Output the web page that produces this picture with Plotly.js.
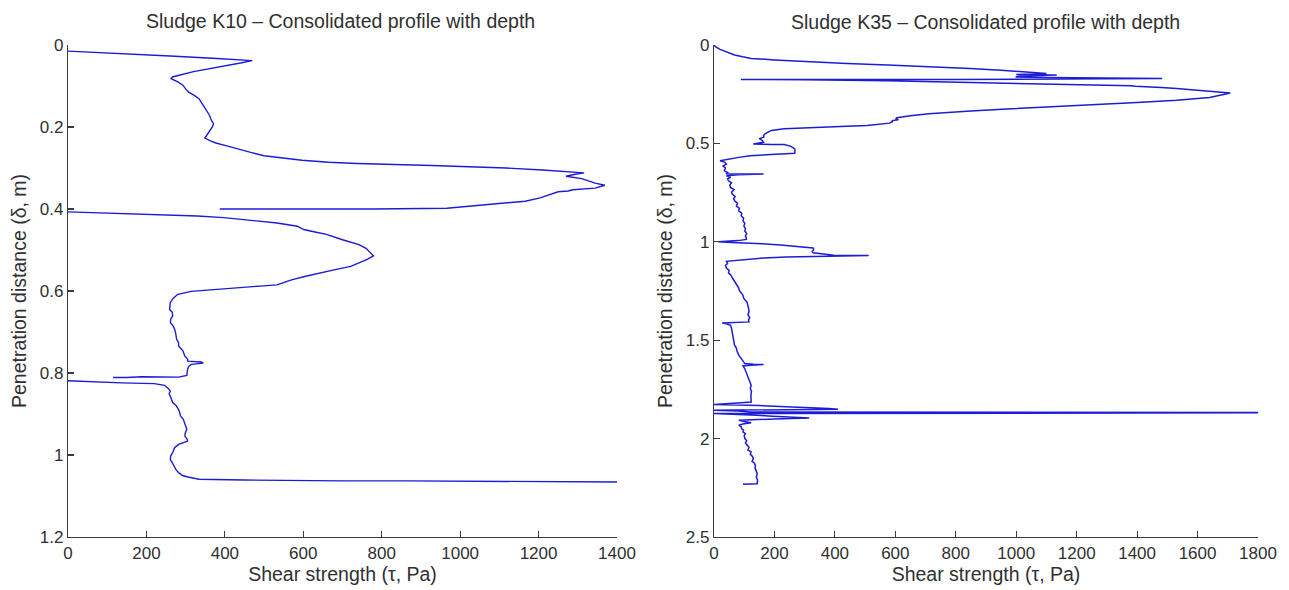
<!DOCTYPE html>
<html>
<head>
<meta charset="utf-8">
<script src="https://cdn.plot.ly/plotly-3.0.1.min.js"></script>
<style>html,body{margin:0;padding:0;background:#fff;}#chart{width:1289px;height:590px;}</style>
</head>
<body>
<div id="chart"></div>
<script>
// Sludge K10: depth (m) and shear strength (Pa); null marks a break in the trace
const k10Depth = [0.015,0.020,0.027,0.033,0.038,0.044,0.053,0.065,0.078,0.082,0.090,0.098,0.107,0.115,0.123,0.131,0.143,0.155,0.170,0.184,0.192,0.200,0.209,0.218,0.227,0.233,0.239,0.246,0.254,0.262,0.270,0.276,0.281,0.286,0.289,0.294,0.300,0.305,0.308,0.312,0.316,0.320,0.326,0.332,0.337,0.342,0.346,0.349,0.353,0.356,0.358,0.361,0.367,0.373,0.381,0.385,0.389,0.393,0.398,0.400,0.400,0.400,0.400,
null,
0.407,0.410,0.413,0.417,0.421,0.427,0.434,0.442,0.450,0.456,0.462,0.475,0.487,0.496,0.503,0.514,0.523,0.532,0.540,0.546,0.552,0.564,0.573,0.581,0.585,0.588,0.591,0.596,0.601,0.608,0.618,0.628,0.645,0.652,0.661,0.668,0.677,0.685,0.693,0.705,0.718,0.726,0.734,0.746,0.753,0.759,0.766,0.771,0.773,0.776,0.779,0.785,0.791,0.800,0.806,0.810,0.810,0.809,0.811,0.811,
null,
0.819,0.822,0.824,0.826,0.828,0.830,0.837,0.844,0.850,0.856,0.864,0.872,0.880,0.889,0.897,0.905,0.913,0.921,0.929,0.937,0.946,0.954,0.960,0.966,0.970,0.974,0.982,0.988,0.994,1.002,1.011,1.019,1.027,1.035,1.043,1.050,1.053,1.057,1.059,1.061,1.062,1.063,1.063,1.064,1.065,1.066];
const k10Shear = [0,120,260,380,470,440,387,320,266,263,280,293,300,308,322,334,342,350,360,366,371,368,361,355,349,362,377,405,434,466,500,548,597,665,737,928,1117,1210,1260,1316,1290,1270,1310,1330,1344,1369,1355,1344,1288,1275,1250,1240,1222,1204,1166,1120,1069,1020,966,780,600,450,387,
null,
0,120,240,330,397,470,533,585,601,630,659,700,742,760,768,779,763,742,721,690,659,606,570,543,533,490,449,366,314,280,268,261,259,266,267,262,261,268,272,275,277,282,282,293,296,298,305,305,340,345,314,307,305,303,303,282,240,188,150,115,
null,
0,70,136,220,240,246,255,261,258,261,264,267,276,282,285,287,294,298,300,303,299,298,303,305,292,282,272,270,267,262,261,266,270,275,282,292,303,320,334,450,554,700,867,1000,1200,1400];

// Sludge K35: depth (m) and shear strength (Pa)
const k35Depth = [0.000,0.009,0.022,0.035,0.051,0.060,0.068,0.076,0.085,0.094,0.102,0.110,0.119,0.128,0.136,0.140,0.145,0.150,0.153,0.157,0.162,0.165,0.167,0.169,0.170,0.172,0.174,0.175,0.175,0.175,0.177,0.182,0.190,0.196,0.200,0.204,0.207,0.210,0.212,0.216,0.221,0.226,0.230,0.236,0.244,0.250,0.256,0.262,0.267,0.274,0.281,0.292,0.302,0.313,0.324,0.336,0.349,0.360,0.370,0.375,0.380,0.384,0.390,0.397,0.403,0.409,0.413,0.417,0.421,0.426,0.434,0.443,0.450,0.460,0.468,0.476,0.485,0.494,0.500,0.503,0.505,0.506,0.515,0.528,0.540,0.550,0.554,0.557,0.563,0.571,0.578,0.584,0.588,0.595,0.605,0.615,0.625,0.639,0.648,0.654,0.656,0.659,0.662,0.664,0.672,0.680,0.690,0.700,0.712,0.724,0.735,0.748,0.758,0.770,0.781,0.792,0.805,0.818,0.830,0.843,0.855,0.868,0.880,0.894,0.906,0.920,0.933,0.945,0.958,0.970,0.980,0.988,0.994,0.997,1.000,1.003,1.005,1.010,1.016,1.022,1.027,1.031,1.040,1.048,1.056,1.063,1.068,1.069,1.071,1.073,1.077,1.082,1.090,1.099,1.110,1.120,1.133,1.145,1.158,1.170,1.184,1.196,1.210,1.222,1.235,1.248,1.260,1.272,1.285,1.295,1.305,1.320,1.335,1.356,1.370,1.385,1.398,1.407,1.410,1.413,1.416,1.424,1.440,1.455,1.475,1.490,1.505,1.525,1.540,1.555,1.576,1.590,1.605,1.619,1.622,1.624,1.627,1.631,1.645,1.660,1.678,1.695,1.712,1.729,1.745,1.760,1.780,1.800,1.814,1.818,1.822,1.827,1.832,1.838,1.844,1.847,1.851,1.853,1.856,1.860,1.865,1.867,1.869,1.873,1.877,1.881,1.885,1.890,1.895,1.900,1.907,1.913,1.920,1.926,1.932,1.940,1.950,1.958,1.966,1.975,1.985,2.000,2.010,2.022,2.034,2.045,2.058,2.068,2.080,2.092,2.102,2.115,2.125,2.136,2.150,2.165,2.178,2.195,2.210,2.229,2.231,2.232];
const k35Shear = [0,5,20,40,68,95,123,200,301,440,574,710,847,950,1025,1052,1100,1000,1134,1020,998,1100,1257,1400,1483,1300,1121,800,400,89,300,574,850,1121,1230,1326,1380,1394,1440,1480,1531,1570,1599,1650,1708,1690,1667,1655,1640,1590,1531,1400,1257,1120,984,850,711,650,605,601,610,590,590,581,545,506,440,369,300,232,190,178,170,164,165,150,160,164,140,130,190,232,255,267,268,267,220,164,120,82,60,41,20,35,41,30,38,34,45,40,164,80,45,41,55,45,48,58,52,55,66,58,61,70,65,68,78,74,84,82,92,90,98,96,102,99,104,102,108,104,107,107,80,55,14,60,96,160,220,273,310,328,330,325,328,360,396,512,400,328,240,164,90,41,45,38,41,50,48,56,61,66,72,76,82,84,90,96,98,102,109,112,114,116,112,118,114,116,70,27,40,55,58,60,61,64,66,68,74,76,82,88,96,102,130,164,120,96,102,106,109,114,118,123,120,124,122,123,123,90,55,0,150,260,341,380,410,200,0,80,120,1800,1800,0,90,140,178,250,315,200,82,100,123,95,82,90,92,98,96,104,100,102,108,104,109,116,112,123,120,128,130,126,134,137,136,141,143,140,144,143,120,96];

const plotTitles = ['Sludge K10 \u2013 Consolidated profile with depth', 'Sludge K35 \u2013 Consolidated profile with depth'];
const xTitle = 'Shear strength (\u03c4, Pa)';
const yTitle = 'Penetration distance (\u03b4, m)';

const FONT = 'Liberation Sans, Arial, Helvetica, sans-serif';
const LINE = 'rgb(28,28,212)';
const TXT = '#303030';

const traces = [
  {x: k10Shear, y: k10Depth, xaxis: 'x', yaxis: 'y', type: 'scatter', mode: 'lines',
   line: {color: LINE, width: 1.4}, connectgaps: false, hoverinfo: 'x+y'},
  {x: k35Shear, y: k35Depth, xaxis: 'x2', yaxis: 'y2', type: 'scatter', mode: 'lines',
   line: {color: LINE, width: 1.5}, connectgaps: false, hoverinfo: 'x+y'}
];

function axisBase(extra) {
  return Object.assign({
    showline: true, linecolor: '#3a3a3a', linewidth: 1.2,
    ticks: 'inside', ticklen: 6, tickwidth: 1.1, tickcolor: '#3a3a3a',
    showgrid: false, zeroline: false, mirror: false,
    tickfont: {family: FONT, size: 17, color: TXT},
    automargin: false
  }, extra);
}

const layout = {
  width: 1289, height: 590,
  margin: {l: 0, r: 0, t: 0, b: 0},
  paper_bgcolor: '#fff', plot_bgcolor: '#fff',
  showlegend: false,
  font: {family: FONT, color: TXT},
  xaxis: axisBase({domain: [68/1289, 617/1289], range: [0, 1400], dtick: 200, tick0: 0, anchor: 'y',
    title: {text: xTitle, font: {family: FONT, size: 19.5, color: TXT}, standoff: 4}}),
  yaxis: axisBase({domain: [1 - 537/590, 1 - 45/590], range: [1.2, 0], dtick: 0.2, tick0: 0, anchor: 'x',
    title: {text: yTitle, font: {family: FONT, size: 19.5, color: TXT}, standoff: 8}}),
  xaxis2: axisBase({domain: [714/1289, 1258/1289], range: [0, 1800], dtick: 200, tick0: 0, anchor: 'y2',
    title: {text: xTitle, font: {family: FONT, size: 19.5, color: TXT}, standoff: 4}}),
  yaxis2: axisBase({domain: [1 - 537/590, 1 - 45/590], range: [2.5, 0], dtick: 0.5, tick0: 0, anchor: 'x2',
    title: {text: yTitle, font: {family: FONT, size: 19.5, color: TXT}, standoff: 8}}),
  annotations: [
    {text: plotTitles[0], xref: 'paper', yref: 'paper', x: 340/1289, y: 1 - 21/590,
     xanchor: 'center', yanchor: 'middle', showarrow: false, font: {family: FONT, size: 19.5, color: TXT}},
    {text: plotTitles[1], xref: 'paper', yref: 'paper', x: 985/1289, y: 1 - 22/590,
     xanchor: 'center', yanchor: 'middle', showarrow: false, font: {family: FONT, size: 19.5, color: TXT}}
  ]
};

Plotly.newPlot('chart', traces, layout, {displayModeBar: false, staticPlot: true});
</script>
</body>
</html>
